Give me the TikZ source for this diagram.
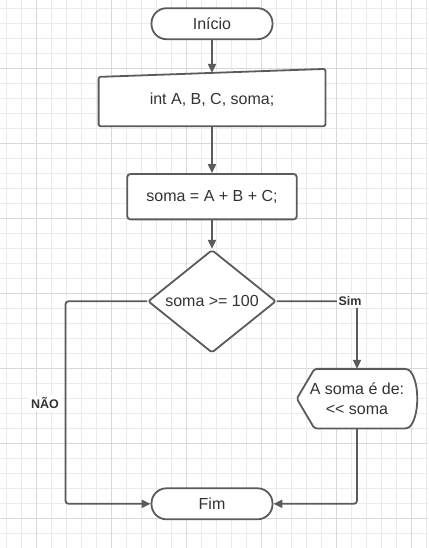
\documentclass[tikz,border=0pt]{standalone}
\usepackage{fontspec}
\setmainfont{Liberation Sans}[Ligatures=TeXOff]
\usepackage{tikz}
\usetikzlibrary{shapes.geometric, arrows.meta}

\definecolor{linha}{HTML}{5B5B5B}
\definecolor{texto}{HTML}{333333}
\definecolor{gradefina}{HTML}{EBEBEB}
\definecolor{gradeforte}{HTML}{D8D8D8}

\begin{document}
\begin{tikzpicture}[x=1pt, y=-1pt, font=\fontsize{16}{20}\selectfont]
    \tikzstyle{terminal} = [rectangle, rounded corners=15pt, minimum width=121pt, minimum height=31pt, text centered, draw=linha, line width=1.8pt, fill=white, text=texto]
\tikzstyle{entrada} = [rectangle, minimum width=226.4pt, minimum height=53pt, text centered, text=texto]
\tikzstyle{processo} = [rectangle, rounded corners=3pt, minimum width=169.4pt, minimum height=45.3pt, text centered, draw=linha, line width=1.8pt, fill=white, text=texto]
\tikzstyle{decisao} = [diamond, aspect=1.24, minimum width=128pt, minimum height=103pt, inner sep=1pt, rounded corners=2pt, text centered, draw=linha, line width=1.8pt, fill=white, text=texto]
\tikzstyle{saidabox} = [rectangle, minimum width=120pt, minimum height=59.3pt, align=center, text=texto]
\tikzstyle{contorno} = [draw=linha, line width=1.8pt, fill=white, rounded corners=2pt, line join=round]
\tikzstyle{rotulo} = [font=\fontsize{12.5}{15}\selectfont\bfseries, text=texto, fill=white, inner sep=2pt]
\tikzstyle{arrow} = [draw=linha, line width=1.8pt, -{Triangle[length=9pt, width=8pt]}, rounded corners=3pt]

    % fundo quadriculado
    \useasboundingbox (0,0) rectangle (428,548);
    \fill[white] (0,0) rectangle (428,548);
    \foreach \x in {6.7,21.7,...,428} \draw[gradefina, line width=1pt] (\x,0) -- (\x,548);
    \foreach \y in {8.3,23.3,...,548} \draw[gradefina, line width=1pt] (0,\y) -- (428,\y);
    \foreach \x in {36.7,111.7,...,428} \draw[gradeforte, line width=1pt] (\x,0) -- (\x,548);
    \foreach \y in {68.3,143.3,...,548} \draw[gradeforte, line width=1pt] (0,\y) -- (428,\y);

    \node (inicio) [terminal] at (212,23.7) {Início};

\node (decl) [entrada, below of=inicio, node distance=75.9pt] {};
\draw[contorno] ([yshift=-4pt]decl.north west) -- ([yshift=4pt]decl.north east) -- (decl.south east) -- (decl.south west) -- cycle;
\node [entrada] at (decl) {int A, B, C, soma;};

\node (calc) [processo, below of=decl, node distance=97.1pt] {soma = A + B + C;};
\node (cond) [decisao, below of=calc, node distance=104.6pt] {soma >= 100};

\node (saida) [saidabox, below of=cond, node distance=97.4pt, xshift=145pt] {};
\draw[contorno] (saida.west) -- ([xshift=17.7pt]saida.north west) -- ([xshift=-10pt]saida.north east)
    .. controls ([xshift=-3pt,yshift=-5pt]saida.north east) and ([yshift=12pt]saida.east) .. (saida.east)
    .. controls ([yshift=-12pt]saida.east) and ([xshift=-3pt,yshift=5pt]saida.south east) .. ([xshift=-10pt]saida.south east)
    -- ([xshift=17.7pt]saida.south west) -- cycle;
\node [saidabox] at (saida) {A soma é de:\\<< soma};

\node (fim) [terminal, below of=cond, node distance=202.5pt] {Fim};

\coordinate (cantonao) at ([xshift=-81.6pt]cond.west);

\draw[arrow] (inicio) -- (decl);
\draw[arrow] (decl) -- (calc);
\draw[arrow] (calc) -- (cond);

  \draw [arrow] (cond.east) -| (saida.north);
\draw [arrow] (cond.west) -- (cantonao) |- (fim.west);
\draw [arrow] (saida.south) |- (fim.east);

\node (sim) [rotulo] at (350,301) {Sim};
\node (nao) [rotulo] at (45,403.3) {NÃO};
  \end{tikzpicture}
\end{document}
